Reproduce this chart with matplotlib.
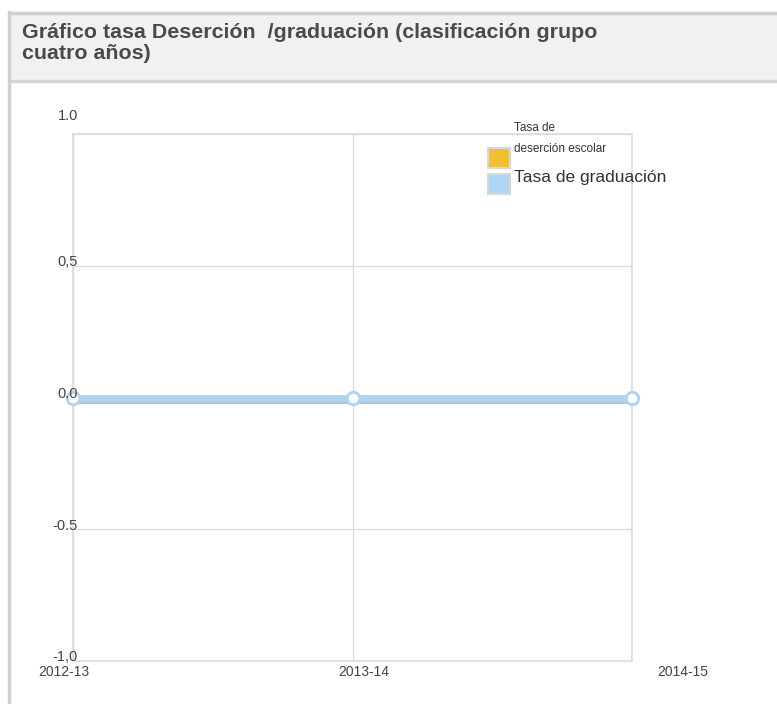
import matplotlib
matplotlib.use('Agg')
from matplotlib import pyplot as plt
from matplotlib.patches import Rectangle
from matplotlib.lines import Line2D
import matplotlib.patheffects as pe

plt.rcParams['font.family'] = ['Liberation Sans', 'DejaVu Sans']

# data
years = ['2012-13', '2013-14', '2014-15']
desercion = [0.0, 0.0, 0.0]
graduacion = [0.0, 0.0, 0.0]
ytick_vals = [-1.0, -0.5, 0.0, 0.5, 1.0]
ytick_labels = ['-1,0', '-0.5', '0.0', '0,5', '1.0']
title = 'Gráfico tasa Deserción  /graduación (clasificación grupo\ncuatro años)'

W, H = 777, 704
fig = plt.figure(figsize=(W / 100, H / 100), dpi=100)
fig.patch.set_facecolor('white')

# header band
fig.patches.append(Rectangle((10 / W, 1 - 80 / H), 1, 67 / H, transform=fig.transFigure,
                             facecolor='#f1f1f1', edgecolor='none', zorder=0))
fig.add_artist(Line2D([10 / W, 1], [1 - 13 / H, 1 - 13 / H], color='#cfcfcf', lw=2.5,
                      transform=fig.transFigure))
fig.add_artist(Line2D([10 / W, 1], [1 - 81 / H, 1 - 81 / H], color='#d4d4d4', lw=2.5,
                      transform=fig.transFigure))
fig.add_artist(Line2D([9 / W, 9 / W], [0, 1 - 12 / H], color='#cfcfcf', lw=2.5,
                      transform=fig.transFigure))
fig.text(22 / W, 1 - 23 / H, title, ha='left', va='top', fontsize=15.4, fontweight='bold',
         color='#4a4a4a', linespacing=1.12)

ax = fig.add_axes([73 / W, 43 / H, 559 / W, 527 / H])
x = list(range(len(years)))

ax.plot(x, desercion, color='#f0c030', lw=4, zorder=3)
ax.plot(x, graduacion, color='#aed3f3', lw=5, zorder=4,
        path_effects=[pe.SimpleLineShadow(offset=(0, -1.5), shadow_color='#9aa6b2', alpha=0.7),
                      pe.Normal()])
ax.plot(x, graduacion, 'o', ms=9, mfc='white', mec='#aed3f3', mew=2, zorder=5, clip_on=False)

ax.set_xlim(0, 2)
ax.set_ylim(-1, 1)
ax.set_xticks(x)
ax.set_yticks(ytick_vals)
ax.grid(True, color='#dcdcdc', lw=1)
ax.tick_params(length=0, labelbottom=False, labelleft=False)
for s in ax.spines.values():
    s.set_color('#dcdcdc')
    s.set_linewidth(1.2)

# y labels sit just above each grid line, overlapping the axis
y_offsets = [4, 3, 3, 4, 18]
for v, lab, dy in zip(ytick_vals, ytick_labels, y_offsets):
    ax.annotate(lab, xy=(0, v), xycoords=('axes fraction', 'data'), xytext=(5, dy),
                textcoords='offset pixels', ha='right', va='center', fontsize=10.5,
                color='#444444', zorder=6)

# x labels, offset like the original
x_offsets = [-9, 11, 51]
for xi, lab, dx in zip(x, years, x_offsets):
    ax.annotate(lab, xy=(xi, 0), xycoords=('data', 'axes fraction'), xytext=(dx, -4),
                textcoords='offset pixels', ha='center', va='top', fontsize=10,
                color='#444444')

# legend
fig.patches.append(Rectangle((488 / W, 1 - 168 / H), 22 / W, 20 / H, transform=fig.transFigure,
                             facecolor='#f0c030', edgecolor='#d8d8d8', lw=1.5, zorder=5))
fig.patches.append(Rectangle((488 / W, 1 - 194 / H), 22 / W, 20 / H, transform=fig.transFigure,
                             facecolor='#b0d6f6', edgecolor='#d8d8d8', lw=1.5, zorder=5))
fig.text(514 / W, 1 - 134 / H, 'Tasa de', fontsize=8.5, color='#333333', va='bottom')
fig.text(514 / W, 1 - 155 / H, 'deserción escolar', fontsize=8.5, color='#333333', va='bottom')
fig.text(514 / W, 1 - 185 / H, 'Tasa de graduación', fontsize=12.5, color='#333333', va='bottom')

plt.savefig('out.png', dpi=100)
